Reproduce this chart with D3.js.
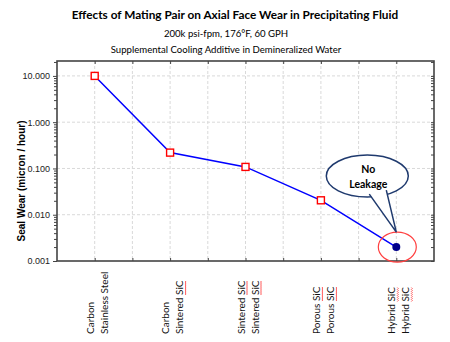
<!DOCTYPE html>
<html>
<head>
<meta charset="utf-8">
<script src="https://cdn.jsdelivr.net/npm/d3@7"></script>
<style>
  body { margin: 0; background: #fff; }
  svg { display: block; }
</style>
</head>
<body>
<div id="chart"></div>
<script>
// chart data
var pairLine1 = ["Carbon", "Carbon", "Sintered SiC", "Porous SiC", "Hybrid SiC"];
var pairLine2 = ["Stainless Steel", "Sintered SiC", "Sintered SiC", "Porous SiC", "Hybrid SiC"];
var pairPos = [1, 3, 5, 7, 9];
var wearValues = [10.0, 0.22, 0.108, 0.0205, 0.002];
var yTickValues = [0.001, 0.01, 0.1, 1, 10];

var svgWidth = 450;
var svgHeight = 342;

var margin = { top: 61, right: 16, bottom: 81, left: 57 };
var width = svgWidth - margin.left - margin.right;
var height = svgHeight - margin.top - margin.bottom;

var svg = d3.select("#chart")
  .append("svg")
  .attr("width", svgWidth)
  .attr("height", svgHeight);

// titles
svg.append("text")
  .attr("x", 235).attr("y", 19)
  .attr("text-anchor", "middle")
  .style("font-family", "Lato, sans-serif")
  .style("font-weight", "bold")
  .style("font-size", "11.8px")
  .text("Effects of Mating Pair on Axial Face Wear in Precipitating Fluid");

svg.append("text")
  .attr("x", 226).attr("y", 37)
  .attr("text-anchor", "middle")
  .style("font-family", "Lato, sans-serif")
  .style("font-size", "9.6px")
  .text("200k psi-fpm, 176°F, 60 GPH");

svg.append("text")
  .attr("x", 226).attr("y", 53)
  .attr("text-anchor", "middle")
  .style("font-family", "Lato, sans-serif")
  .style("font-size", "9.6px")
  .text("Supplemental Cooling Additive in Demineralized Water");

var chartGroup = svg.append("g")
  .attr("transform", `translate(${margin.left}, ${margin.top})`);

var xScale = d3.scaleLinear().domain([0, 10]).range([0, width]);
var yScale = d3.scaleLog().domain([0.001, 21]).range([height, 0]);

var xGridValues = d3.range(1, 10);
var minorValues = [];
[0.001, 0.01, 0.1, 1, 10].forEach(function(d) {
  for (var k = 2; k <= 9; k++) {
    if (d * k <= 21) minorValues.push(d * k);
  }
});

// grid lines
chartGroup.append("g")
  .selectAll("line")
  .data(xGridValues)
  .enter()
  .append("line")
  .attr("x1", d => xScale(d)).attr("x2", d => xScale(d))
  .attr("y1", 0).attr("y2", height)
  .attr("stroke", "#d9d9d9")
  .attr("stroke-dasharray", "3,2");

chartGroup.append("g")
  .selectAll("line")
  .data(yTickValues.slice(1))
  .enter()
  .append("line")
  .attr("x1", 0).attr("x2", width)
  .attr("y1", d => yScale(d)).attr("y2", d => yScale(d))
  .attr("stroke", "#d9d9d9")
  .attr("stroke-dasharray", "3,2");

// left axis
var leftAxis = d3.axisLeft(yScale)
  .tickValues(yTickValues)
  .tickSize(4)
  .tickFormat(d3.format(".3f"));

var yAxis = chartGroup.append("g").call(leftAxis);
yAxis.select(".domain").remove();
yAxis.selectAll("text")
  .style("font-family", "Arial, 'Liberation Sans', sans-serif")
  .style("font-size", "9px")
  .attr("fill", "#222");
yAxis.selectAll("line").attr("stroke", "#444");

var leftMinor = d3.axisLeft(yScale).tickValues(minorValues).tickSize(3).tickFormat("");
chartGroup.append("g").call(leftMinor)
  .call(g => g.select(".domain").remove())
  .selectAll("line").attr("stroke", "#444");

// right frame ticks (inside)
var rightTicks = d3.axisLeft(yScale).tickValues(minorValues.concat(yTickValues)).tickSize(3).tickFormat("");
chartGroup.append("g")
  .attr("transform", `translate(${width}, 0)`)
  .call(rightTicks)
  .call(g => g.select(".domain").remove())
  .selectAll("line").attr("stroke", "#444");

// top and bottom ticks
var topTicks = d3.axisBottom(xScale).tickValues(xGridValues).tickSize(3).tickFormat("");
chartGroup.append("g").call(topTicks)
  .call(g => g.select(".domain").remove())
  .selectAll("line").attr("stroke", "#444");

var bottomTicks = d3.axisTop(xScale).tickValues(xGridValues).tickSize(3).tickFormat("");
chartGroup.append("g")
  .attr("transform", `translate(0, ${height})`)
  .call(bottomTicks)
  .call(g => g.select(".domain").remove())
  .selectAll("line").attr("stroke", "#444");

// frame
chartGroup.append("rect")
  .attr("x", 0).attr("y", 0)
  .attr("width", width).attr("height", height)
  .attr("fill", "none")
  .attr("stroke", "#444")
  .attr("stroke-width", 1.6);

// y axis title
svg.append("text")
  .attr("transform", "rotate(-90)")
  .attr("x", -181).attr("y", 25)
  .attr("text-anchor", "middle")
  .style("font-family", "Arial, 'Liberation Sans', sans-serif")
  .style("font-weight", "bold")
  .style("font-size", "10px")
  .text("Seal Wear (micron / hour)");

// data line
var points = pairPos.map((p, i) => ({ x: p, y: wearValues[i] }));
var line = d3.line().x(d => xScale(d.x)).y(d => yScale(d.y));

chartGroup.append("path")
  .datum(points)
  .attr("d", line)
  .attr("fill", "none")
  .attr("stroke", "#0000ff")
  .attr("stroke-width", 1.5);

chartGroup.selectAll(".marker")
  .data(points.slice(0, 4))
  .enter()
  .append("rect")
  .attr("class", "marker")
  .attr("x", d => xScale(d.x) - 3.5)
  .attr("y", d => yScale(d.y) - 3.5)
  .attr("width", 7).attr("height", 7)
  .attr("fill", "#fff")
  .attr("stroke", "#ff0000")
  .attr("stroke-width", 1.4);

var last = points[4];
var lx = xScale(last.x), ly = yScale(last.y);

chartGroup.append("circle")
  .attr("cx", lx).attr("cy", ly)
  .attr("r", 4)
  .attr("fill", "#00008b");

// red ring around last point
chartGroup.append("ellipse")
  .attr("cx", lx + 1).attr("cy", ly)
  .attr("rx", 19).attr("ry", 15)
  .attr("fill", "none")
  .attr("stroke", "#ff4040")
  .attr("stroke-width", 1.2);

// callout
var cx = lx - 29, cy = ly - 71;
var callout = chartGroup.append("g");
callout.append("ellipse")
  .attr("cx", cx).attr("cy", cy)
  .attr("rx", 41).attr("ry", 21)
  .attr("fill", "#fff")
  .attr("stroke", "#1f3a6e")
  .attr("stroke-width", 1.5);
callout.append("path")
  .attr("d", `M${cx + 2},${cy + 18} L${lx},${ly - 15} L${cx + 19},${cy + 14}`)
  .attr("fill", "#fff")
  .attr("stroke", "#1f3a6e")
  .attr("stroke-width", 1.5);
callout.append("path")
  .attr("d", `M${cx + 3.5},${cy + 17.3} L${cx + 17.5},${cy + 14.2} L${cx + 17},${cy + 12} L${cx + 3},${cy + 15} Z`)
  .attr("fill", "#fff");
callout.append("text")
  .attr("x", cx + 1).attr("y", cy - 3)
  .attr("text-anchor", "middle")
  .style("font-family", "Lato, sans-serif")
  .style("font-weight", "bold")
  .style("font-size", "10.5px")
  .text("No");
callout.append("text")
  .attr("x", cx + 1).attr("y", cy + 12)
  .attr("text-anchor", "middle")
  .style("font-family", "Lato, sans-serif")
  .style("font-weight", "bold")
  .style("font-size", "10.5px")
  .text("Leakage");

// category labels (rotated, two lines)
function addLabel(g, str, xPos) {
  var t = g.append("text")
    .attr("transform", `translate(${xPos}, ${height + 73}) rotate(-90)`)
    .style("font-family", "Lato, sans-serif")
    .style("font-size", "10px")
    .attr("fill", "#111")
    .text(str);
  var idx = str.indexOf("SiC");
  if (idx >= 0) {
    var node = t.node();
    var start = idx > 0 ? node.getSubStringLength(0, idx) : 0;
    var len = node.getSubStringLength(idx, 3);
    var d = "M" + start + ",2";
    for (var s = start + 1; s <= start + len; s += 1) {
      d += " L" + s + "," + (Math.round(s - start) % 2 === 0 ? 2 : 3);
    }
    g.append("path")
      .attr("transform", `translate(${xPos}, ${height + 73}) rotate(-90)`)
      .attr("d", d)
      .attr("fill", "none")
      .attr("stroke", "#ff3030")
      .attr("stroke-width", 0.8);
  }
}

var labelsGroup = chartGroup.append("g");
pairPos.forEach(function(p, i) {
  addLabel(labelsGroup, pairLine1[i], xScale(p) - 1);
  addLabel(labelsGroup, pairLine2[i], xScale(p) + 13);
});
</script>
</body>
</html>
